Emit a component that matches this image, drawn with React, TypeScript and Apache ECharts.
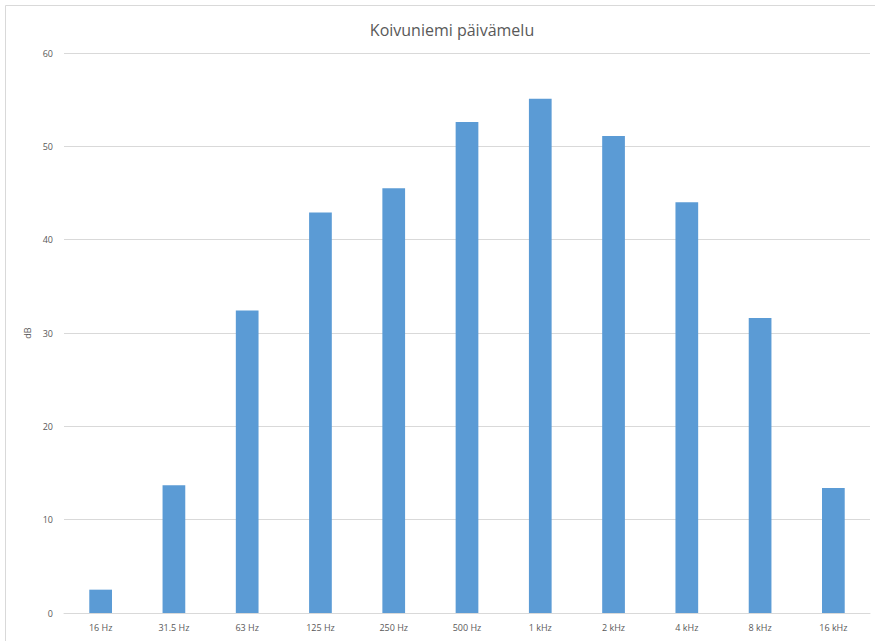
import React, { useEffect, useRef } from "react";
import * as echarts from "echarts";

const categories = ["16 Hz", "31.5 Hz", "63 Hz", "125 Hz", "250 Hz", "500 Hz", "1 kHz", "2 kHz", "4 kHz", "8 kHz", "16 kHz"];
const values = [2.5, 13.7, 32.4, 42.9, 45.5, 52.6, 55.1, 51.1, 44.0, 31.6, 13.4];
const yTicks = { min: 0, max: 60, interval: 10 };

export default function App() {
  const ref = useRef<HTMLDivElement>(null);
  useEffect(() => {
    if (!ref.current) return;
    const chart = echarts.init(ref.current, undefined, { renderer: "svg" });
    const font = "'Open Sans', 'Liberation Sans', sans-serif";
    chart.setOption({
      animation: false,
      backgroundColor: "#ffffff",
      textStyle: { fontFamily: font },
      title: {
        text: "Koivuniemi päivämelu",
        left: 447,
        top: 17,
        textAlign: "center",
        textStyle: { fontFamily: font, fontSize: 16, fontWeight: "normal", color: "#595959" },
      },
      graphic: [
        {
          type: "rect",
          shape: { x: 5.5, y: 5.5, width: 900, height: 700 },
          style: { fill: "none", stroke: "#d9d9d9", lineWidth: 1 },
          silent: true,
        },
      ],
      grid: { left: 64, right: 5, top: 53, bottom: 28, containLabel: false },
      xAxis: {
        type: "category",
        data: categories,
        axisLine: { lineStyle: { color: "#d9d9d9" } },
        axisTick: { show: false },
        axisLabel: { color: "#595959", fontSize: 9, margin: 10, fontFamily: font },
      },
      yAxis: {
        type: "value",
        min: yTicks.min,
        max: yTicks.max,
        interval: yTicks.interval,
        name: "dB",
        nameLocation: "middle",
        nameGap: 30,
        nameRotate: 90,
        nameTextStyle: { color: "#595959", fontSize: 9, fontFamily: font },
        axisLine: { show: false },
        axisTick: { show: false },
        axisLabel: { color: "#595959", fontSize: 9, margin: 11, fontFamily: font },
        splitLine: { lineStyle: { color: "#d9d9d9", width: 1 } },
      },
      series: [
        {
          type: "bar",
          data: values,
          barWidth: "31%",
          itemStyle: { color: "#5b9bd5" },
        },
      ],
    });
    return () => chart.dispose();
  }, []);
  return (
    <div
      ref={ref}
      style={{ position: "fixed", left: 0, top: 0, width: 875, height: 641 }}
    />
  );
}
